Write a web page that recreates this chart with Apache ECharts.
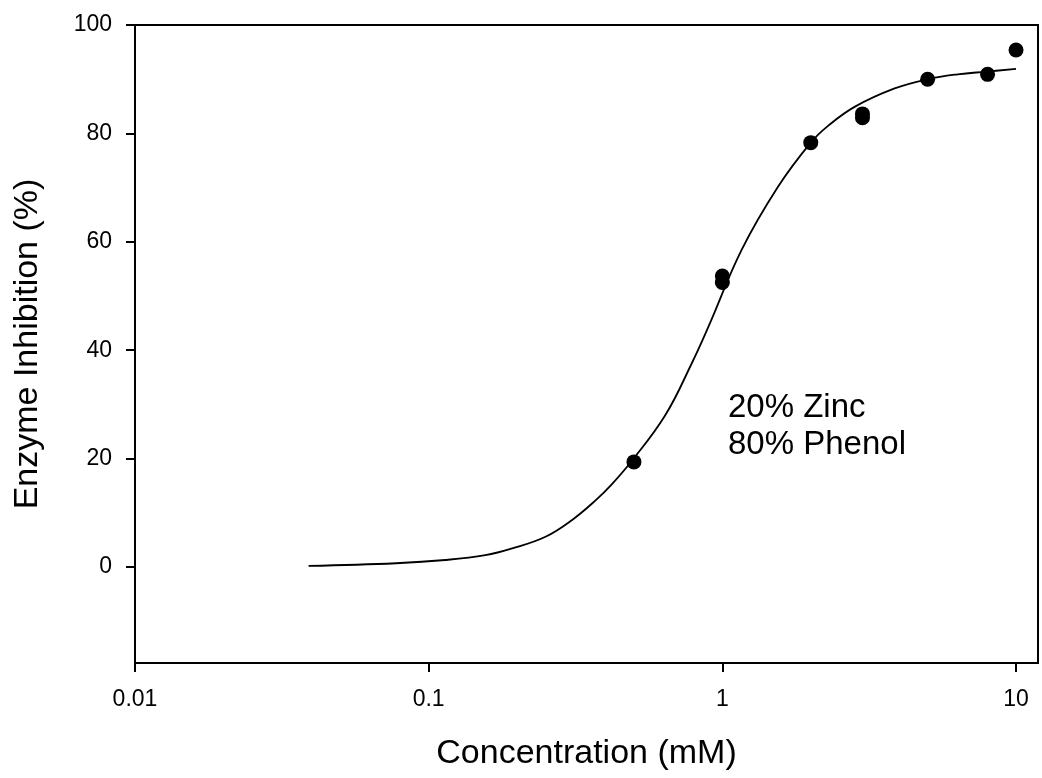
<!DOCTYPE html>
<html>
<head>
<meta charset="utf-8">
<title>Enzyme Inhibition</title>
<script src="https://cdn.jsdelivr.net/npm/echarts@6/dist/echarts.min.js"></script>
<style>
  html, body { margin: 0; padding: 0; background: #fff; }
  #chart { width: 1042px; height: 778px; }
</style>
</head>
<body>
<div id="chart"></div>
<script>
// measured points (concentration mM, inhibition %)
var pointX = [0.5, 1, 1, 2, 3, 3, 5, 8, 10]
var pointY = [19.4, 53.7, 52.5, 78.3, 83.6, 82.9, 90.0, 90.9, 95.4]

// fitted curve
var curveX = [0.039, 0.0774, 0.114, 0.156, 0.1925, 0.25, 0.308, 0.37, 0.421, 0.492,
  0.639, 0.787, 0.896, 1.163, 1.549, 2.0, 2.29, 2.82, 3.86, 5.0, 6.33, 7.94, 10]
var curveY = [0.2, 0.7, 1.3, 2.2, 3.45, 5.6, 8.7, 12.3, 15.3, 19.6,
  28.0, 37.6, 44.3, 58.5, 70.2, 78.3, 81.4, 84.9, 88.3, 90.0, 90.9, 91.4, 91.9]

// tick labels
var xTicks = [0.01, 0.1, 1, 10]
var yTicks = [0, 20, 40, 60, 80, 100]

var fontFamily = '"Liberation Sans", Arial, sans-serif'

function zip(xs, ys) {
  return xs.map(function (x, i) { return [x, ys[i]] })
}

var chart = echarts.init(document.getElementById('chart'))
chart.setOption({
  backgroundColor: '#fff',
  animation: false,
  textStyle: { fontFamily: fontFamily, color: '#000' },
  grid: {
    left: 135,
    top: 25,
    right: 4,
    bottom: 115,
    show: true,
    borderColor: '#000',
    borderWidth: 2,
    backgroundColor: 'transparent'
  },
  xAxis: {
    type: 'log',
    logBase: 10,
    min: 0.01,
    max: 11.88,
    name: 'Concentration (mM)',
    nameLocation: 'middle',
    nameGap: 74,
    nameTextStyle: { fontSize: 34, color: '#000', fontFamily: fontFamily },
    axisLine: { onZero: false, lineStyle: { color: '#000', width: 2 } },
    axisTick: { inside: false, length: 9, lineStyle: { color: '#000', width: 2 }, customValues: xTicks },
    axisLabel: {
      fontSize: 23, color: '#000', margin: 25, customValues: xTicks,
      formatter: function (v) { return String(v) }
    },
    splitLine: { show: false },
    minorTick: { show: false }
  },
  yAxis: {
    type: 'value',
    min: -17.7,
    max: 100,
    name: 'Enzyme Inhibition (%)',
    nameLocation: 'middle',
    nameGap: 90,
    nameTextStyle: { fontSize: 34, color: '#000', fontFamily: fontFamily },
    axisLine: { onZero: false, lineStyle: { color: '#000', width: 2 } },
    axisTick: { inside: false, length: 9, lineStyle: { color: '#000', width: 2 }, customValues: yTicks },
    axisLabel: { fontSize: 23, color: '#000', margin: 23, customValues: yTicks },
    splitLine: { show: false }
  },
  graphic: [{
    type: 'text',
    left: 728,
    top: 389,
    style: {
      text: '20% Zinc\n80% Phenol',
      font: '33px ' + fontFamily,
      lineHeight: 37,
      fill: '#000'
    }
  }],
  series: [
    {
      name: 'fit',
      type: 'line',
      data: zip(curveX, curveY),
      smooth: 0.4,
      showSymbol: false,
      lineStyle: { color: '#000', width: 1.8 },
      z: 2
    },
    {
      name: 'data',
      type: 'scatter',
      data: zip(pointX, pointY),
      symbol: 'circle',
      symbolSize: 15,
      itemStyle: { color: '#000', opacity: 1 },
      z: 3
    }
  ]
})
</script>
</body>
</html>
